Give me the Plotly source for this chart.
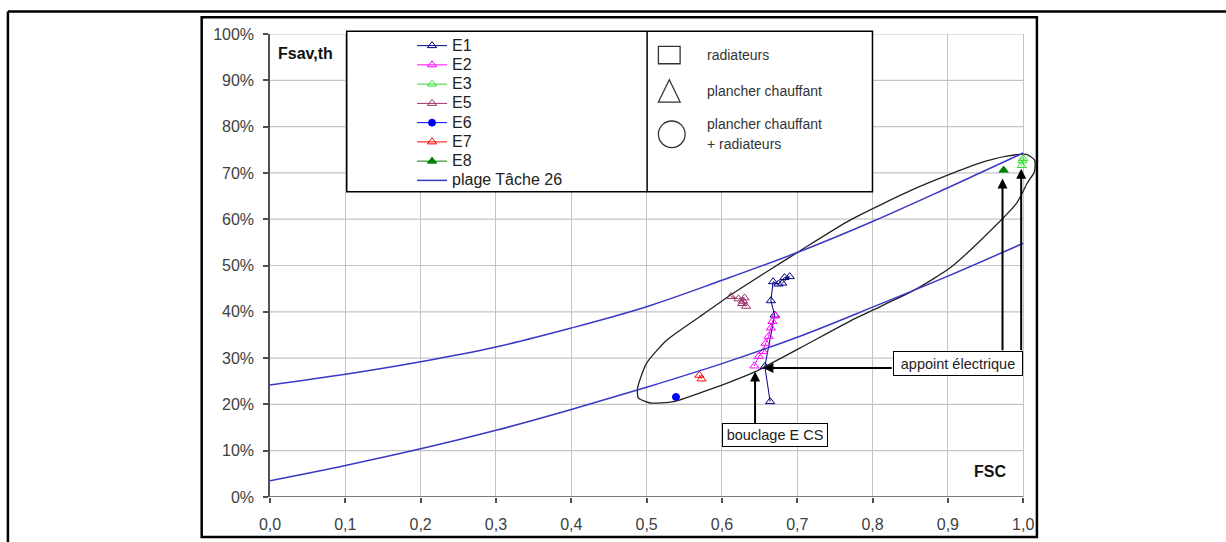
import plotly.graph_objects as go

# ---------------- data ----------------
fsc_grid = [0.0, 0.1, 0.2, 0.3, 0.4, 0.5, 0.6, 0.7, 0.8, 0.9, 1.0]
plage_upper = [0.242, 0.265, 0.292, 0.324, 0.365, 0.411, 0.468, 0.528, 0.595, 0.668, 0.743]
plage_lower = [0.035, 0.068, 0.104, 0.144, 0.189, 0.237, 0.288, 0.345, 0.410, 0.477, 0.548]

e1_x = [0.664, 0.657, 0.670, 0.665, 0.668, 0.675, 0.683, 0.690, 0.680]
e1_y = [0.206, 0.282, 0.393, 0.424, 0.465, 0.460, 0.474, 0.476, 0.462]
e2_x = [0.643, 0.649, 0.655, 0.658, 0.662, 0.665, 0.667, 0.671]
e2_y = [0.283, 0.304, 0.314, 0.332, 0.347, 0.365, 0.379, 0.391]
e3_x = [0.998, 0.999, 1.000]
e3_y = [0.716, 0.726, 0.731]
e5_x = [0.612, 0.622, 0.630, 0.627, 0.632, 0.628]
e5_y = [0.433, 0.428, 0.430, 0.418, 0.412, 0.423]
e6_x = [0.539]
e6_y = [0.216]
e7_x = [0.570, 0.573]
e7_y = [0.263, 0.255]
e8_x = [0.974]
e8_y = [0.706]

series_names = ["E1", "E2", "E3", "E5", "E6", "E7", "E8", "plage Tâche 26"]

# hand-drawn grouping outline ("plancher chauffant + radiateurs")
outline_x = [0.488, 0.500, 0.527, 0.571, 0.615, 0.660, 0.704, 0.770, 0.859, 0.938, 0.978, 1.004,
             1.015, 1.015, 1.005, 0.991, 0.947, 0.903, 0.859, 0.815, 0.770, 0.704, 0.642, 0.607,
             0.571, 0.536, 0.505, 0.489, 0.488]
outline_y = [0.235, 0.289, 0.339, 0.390, 0.440, 0.487, 0.532, 0.598, 0.668, 0.719, 0.736, 0.740,
             0.728, 0.703, 0.677, 0.634, 0.560, 0.495, 0.450, 0.415, 0.380, 0.322, 0.269, 0.246,
             0.225, 0.206, 0.203, 0.214, 0.235]

x_ticks = [0.0, 0.1, 0.2, 0.3, 0.4, 0.5, 0.6, 0.7, 0.8, 0.9, 1.0]
y_ticks = [0.0, 0.1, 0.2, 0.3, 0.4, 0.5, 0.6, 0.7, 0.8, 0.9, 1.0]

# ---------------- layout geometry ----------------
W, H = 1226, 542
PL, PT = 270.0, 33.5
PB = 497.5
X_MAX = 1.0183
PW = 753.0 * X_MAX
PH = PB - PT
FONT = "Liberation Sans, Arial, sans-serif"


def px(x):
    return (x - PL) / PW


def py(y):
    return (PB - y) / PH


def leg(name):
    return f"<span style='font-size:16px'>{name}</span>"


CURVE = "#3838C4"

fig = go.Figure()

fig.add_trace(go.Scatter(x=outline_x, y=outline_y, mode="lines", showlegend=False,
                         line=dict(color="#222222", width=1.3, shape="spline", smoothing=0.6),
                         hoverinfo="skip"))


def pts(x, y, name, color, symbol, size=8):
    fig.add_trace(go.Scatter(x=x, y=y, mode="lines+markers", name=leg(name),
                             line=dict(color=color, width=1),
                             marker=dict(symbol=symbol, size=size, color=color,
                                         line=dict(color=color, width=1))))


pts(e1_x, e1_y, series_names[0], "#000080", "triangle-up-open")
pts(e2_x, e2_y, series_names[1], "#FF00FF", "triangle-up-open")
pts(e3_x, e3_y, series_names[2], "#33DD33", "triangle-up-open")
pts(e5_x, e5_y, series_names[3], "#993366", "triangle-up-open")
pts(e6_x, e6_y, series_names[4], "#0000FF", "circle", 7)
pts(e7_x, e7_y, series_names[5], "#FF0000", "triangle-up-open")
pts(e8_x, e8_y, series_names[6], "#008000", "triangle-up")

fig.add_trace(go.Scatter(x=fsc_grid, y=plage_upper, mode="lines", name=leg(series_names[7]),
                         legendgroup="plage", line=dict(color=CURVE, width=1.5, shape="spline")))
fig.add_trace(go.Scatter(x=fsc_grid, y=plage_lower, mode="lines", name=leg(series_names[7]),
                         legendgroup="plage", showlegend=False,
                         line=dict(color=CURVE, width=1.5, shape="spline")))

shapes = []
# horizontal gridlines (stop at FSC = 1.0)
for v in y_ticks[1:]:
    shapes.append(dict(type="line", xref="x", yref="y", x0=0, x1=1.0, y0=v, y1=v,
                       line=dict(color="#C4C4C4", width=1.2), layer="below"))
# x axis baseline
shapes.append(dict(type="line", xref="x", yref="y", x0=0, x1=1.0, y0=0, y1=0,
                   line=dict(color="#505050", width=1.5), layer="above"))
# chart frame
shapes.append(dict(type="rect", xref="paper", yref="paper", x0=px(201.7), x1=px(1036.7),
                   y0=py(537.7), y1=py(16.7), line=dict(color="black", width=2.5)))
# page border lines
shapes.append(dict(type="line", xref="paper", yref="paper", x0=px(8), x1=px(1240),
                   y0=py(11), y1=py(11), line=dict(color="black", width=2.5)))
shapes.append(dict(type="line", xref="paper", yref="paper", x0=px(8), x1=px(8),
                   y0=py(11), y1=py(560), line=dict(color="black", width=2.5)))
# legend box
shapes.append(dict(type="rect", xref="paper", yref="paper", x0=px(346.7), x1=px(872.3),
                   y0=py(191.7), y1=py(30.7), fillcolor="white",
                   line=dict(color="black", width=1.5), layer="above"))
shapes.append(dict(type="line", xref="paper", yref="paper", x0=px(647), x1=px(647),
                   y0=py(191.7), y1=py(30.7), line=dict(color="black", width=1.5), layer="above"))
# legend symbols
shapes.append(dict(type="rect", xref="paper", yref="paper", x0=px(658.3), x1=px(680),
                   y0=py(63.3), y1=py(46), line=dict(color="#333333", width=1.3), layer="above"))
shapes.append(dict(type="path", xref="paper", yref="paper",
                   path=f"M {px(669.2)} {py(79.3)} L {px(680)} {py(101.7)} L {px(658.3)} {py(101.7)} Z",
                   line=dict(color="#333333", width=1.3), layer="above"))
shapes.append(dict(type="circle", xref="paper", yref="paper", x0=px(658.3), x1=px(685),
                   y0=py(147.3), y1=py(120.7), line=dict(color="#333333", width=1.3), layer="above"))

annotations = []
ARROW = dict(showarrow=True, arrowhead=2, arrowsize=1, arrowwidth=2, arrowcolor="black",
             text="", xref="x", yref="y", axref="x", ayref="y", standoff=0)
annotations.append(dict(x=0.644, y=0.271, ax=0.644, ay=0.156, **ARROW))
annotations.append(dict(x=0.655, y=0.2784, ax=0.8274, ay=0.2784, **ARROW))
annotations.append(dict(x=0.9725, y=0.688, ax=0.9725, ay=0.3136, **ARROW))
annotations.append(dict(x=0.9973, y=0.709, ax=0.9973, ay=0.3136, **ARROW))

BOX = dict(showarrow=False, xref="x", yref="y", bgcolor="white", bordercolor="black",
           borderwidth=1, borderpad=3, font=dict(family=FONT, size=14.5, color="#222222"))
annotations.append(dict(x=0.9137, y=0.2888, text="appoint électrique", width=122, height=17, **BOX))
annotations.append(dict(x=0.670, y=0.1347, text="bouclage E CS", width=98, height=16, **BOX))

annotations.append(dict(x=px(276), y=py(53), xref="paper", yref="paper", xanchor="left",
                        yanchor="middle", showarrow=False, text="<b>Fsav,th</b>",
                        font=dict(family=FONT, size=16, color="#111111")))
annotations.append(dict(x=px(989.5), y=py(471.5), xref="paper", yref="paper", xanchor="center",
                        yanchor="middle", showarrow=False, text="<b>FSC</b>",
                        font=dict(family=FONT, size=16, color="#111111")))

LEG = dict(xref="paper", yref="paper", xanchor="left", yanchor="middle", showarrow=False,
           font=dict(family=FONT, size=14, color="#333333"))
annotations.append(dict(x=px(705), y=py(55), text="radiateurs", **LEG))
annotations.append(dict(x=px(705), y=py(90.7), text="plancher chauffant", **LEG))
annotations.append(dict(x=px(705), y=py(124), text="plancher chauffant", **LEG))
annotations.append(dict(x=px(705), y=py(143.3), text="+ radiateurs", **LEG))

fig.update_layout(
    width=W, height=H,
    margin=dict(l=PL, r=W - PL - PW, t=PT, b=H - PB, autoexpand=False),
    paper_bgcolor="white", plot_bgcolor="white",
    separators=", ",
    font=dict(family=FONT, size=16, color="#404040"),
    shapes=shapes, annotations=annotations,
    showlegend=True,
    legend=dict(x=px(412), y=py(30.5), xanchor="left", yanchor="top",
                bgcolor="rgba(0,0,0,0)", borderwidth=0, tracegroupgap=0,
                font=dict(family=FONT, size=12.5, color="#222222")),
    xaxis=dict(range=[0, X_MAX], tickvals=x_ticks, tickformat=".1f", showgrid=True,
               gridcolor="#C4C4C4", gridwidth=1.2, zeroline=False, showline=False,
               ticks="outside", ticklen=5, tickcolor="#505050", tickwidth=1.5,
               ticklabelstandoff=8, tickfont=dict(family=FONT, size=16, color="#404040")),
    yaxis=dict(range=[0, 1], tickvals=y_ticks, tickformat=".0%", showgrid=False,
               zeroline=False, showline=True, linecolor="#505050", linewidth=1.5,
               ticks="outside", ticklen=5, tickcolor="#505050", tickwidth=1.5,
               ticklabelstandoff=6, tickfont=dict(family=FONT, size=16, color="#404040")),
)

fig.write_html("out.html", config={"displayModeBar": False},
               post_script="document.body.style.margin='0';")
